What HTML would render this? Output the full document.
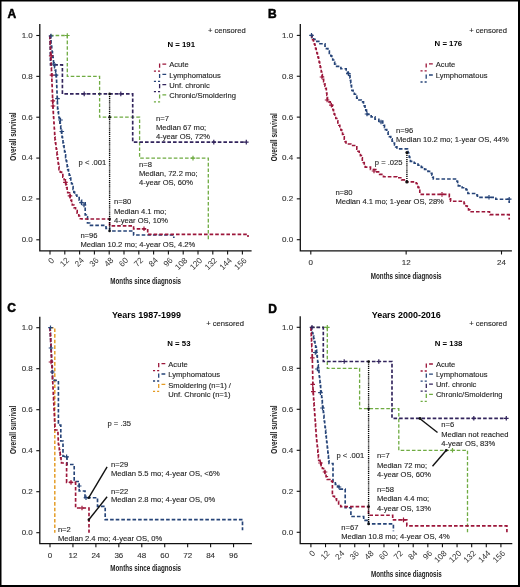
<!DOCTYPE html>
<html><head><meta charset="utf-8"><style>
html,body{margin:0;padding:0;background:#fff;}
svg{display:block;font-family:"Liberation Sans", sans-serif;filter:blur(0.3px);}

</style></head><body>
<svg width="520" height="587" viewBox="0 0 520 587">
<rect x="0" y="0" width="520" height="587" fill="#fff"/>
<text x="7.40" y="17.52" font-size="12" font-weight="bold" text-anchor="start" fill="#000" stroke="#000" stroke-width="0.5" >A</text>
<path d="M39.8,24V250.8H251.6" stroke="#111" stroke-width="1.3" fill="none"/>
<path d="M36.30,239.80H39.8" stroke="#111" stroke-width="1.1"/>
<text x="32.80" y="242.18" font-size="8" font-weight="normal" text-anchor="end" fill="#333" stroke="#333" stroke-width="0.12" >0.0</text>
<path d="M36.30,198.94H39.8" stroke="#111" stroke-width="1.1"/>
<text x="32.80" y="201.32" font-size="8" font-weight="normal" text-anchor="end" fill="#333" stroke="#333" stroke-width="0.12" >0.2</text>
<path d="M36.30,158.08H39.8" stroke="#111" stroke-width="1.1"/>
<text x="32.80" y="160.46" font-size="8" font-weight="normal" text-anchor="end" fill="#333" stroke="#333" stroke-width="0.12" >0.4</text>
<path d="M36.30,117.22H39.8" stroke="#111" stroke-width="1.1"/>
<text x="32.80" y="119.60" font-size="8" font-weight="normal" text-anchor="end" fill="#333" stroke="#333" stroke-width="0.12" >0.6</text>
<path d="M36.30,76.36H39.8" stroke="#111" stroke-width="1.1"/>
<text x="32.80" y="78.74" font-size="8" font-weight="normal" text-anchor="end" fill="#333" stroke="#333" stroke-width="0.12" >0.8</text>
<path d="M36.30,35.50H39.8" stroke="#111" stroke-width="1.1"/>
<text x="32.80" y="37.88" font-size="8" font-weight="normal" text-anchor="end" fill="#333" stroke="#333" stroke-width="0.12" >1.0</text>
<path d="M50.00,250.8V254.40" stroke="#111" stroke-width="1.1"/>
<text transform="translate(54.80,260.90) rotate(-45)" font-size="8.2" text-anchor="end" fill="#333">0</text>
<path d="M64.80,250.8V254.40" stroke="#111" stroke-width="1.1"/>
<text transform="translate(69.60,260.90) rotate(-45)" font-size="8.2" text-anchor="end" fill="#333">12</text>
<path d="M79.60,250.8V254.40" stroke="#111" stroke-width="1.1"/>
<text transform="translate(84.40,260.90) rotate(-45)" font-size="8.2" text-anchor="end" fill="#333">24</text>
<path d="M94.40,250.8V254.40" stroke="#111" stroke-width="1.1"/>
<text transform="translate(99.20,260.90) rotate(-45)" font-size="8.2" text-anchor="end" fill="#333">36</text>
<path d="M109.20,250.8V254.40" stroke="#111" stroke-width="1.1"/>
<text transform="translate(114.00,260.90) rotate(-45)" font-size="8.2" text-anchor="end" fill="#333">48</text>
<path d="M124.00,250.8V254.40" stroke="#111" stroke-width="1.1"/>
<text transform="translate(128.80,260.90) rotate(-45)" font-size="8.2" text-anchor="end" fill="#333">60</text>
<path d="M138.80,250.8V254.40" stroke="#111" stroke-width="1.1"/>
<text transform="translate(143.60,260.90) rotate(-45)" font-size="8.2" text-anchor="end" fill="#333">72</text>
<path d="M153.60,250.8V254.40" stroke="#111" stroke-width="1.1"/>
<text transform="translate(158.40,260.90) rotate(-45)" font-size="8.2" text-anchor="end" fill="#333">84</text>
<path d="M168.40,250.8V254.40" stroke="#111" stroke-width="1.1"/>
<text transform="translate(173.20,260.90) rotate(-45)" font-size="8.2" text-anchor="end" fill="#333">96</text>
<path d="M183.20,250.8V254.40" stroke="#111" stroke-width="1.1"/>
<text transform="translate(188.00,260.90) rotate(-45)" font-size="8.2" text-anchor="end" fill="#333">108</text>
<path d="M198.00,250.8V254.40" stroke="#111" stroke-width="1.1"/>
<text transform="translate(202.80,260.90) rotate(-45)" font-size="8.2" text-anchor="end" fill="#333">120</text>
<path d="M212.80,250.8V254.40" stroke="#111" stroke-width="1.1"/>
<text transform="translate(217.60,260.90) rotate(-45)" font-size="8.2" text-anchor="end" fill="#333">132</text>
<path d="M227.60,250.8V254.40" stroke="#111" stroke-width="1.1"/>
<text transform="translate(232.40,260.90) rotate(-45)" font-size="8.2" text-anchor="end" fill="#333">144</text>
<path d="M242.39,250.8V254.40" stroke="#111" stroke-width="1.1"/>
<text transform="translate(247.19,260.90) rotate(-45)" font-size="8.2" text-anchor="end" fill="#333">156</text>
<text transform="translate(16.30,136.50) rotate(-90) scale(0.655,1)" font-size="9.9" font-weight="bold" text-anchor="middle" fill="#222">Overall survival</text>
<text transform="translate(145.70,284.40) scale(0.632,1)" font-size="9.9" font-weight="bold" text-anchor="middle" fill="#222">Months since diagnosis</text>
<text x="208.00" y="33.49" font-size="7.6" font-weight="normal" text-anchor="start" fill="#1e1e1e" stroke="#1e1e1e" stroke-width="0.12" >+ censored</text>
<text x="167.50" y="46.56" font-size="7.8" font-weight="bold" text-anchor="start" fill="#000" stroke="#000" stroke-width="0.0" >N = 191</text>
<path d="M162.40,64.10H166.20M159.60,63.60V67.80M160.10,71.10H158.00M156.00,71.10H153.90" fill="none" stroke="#9c163a" stroke-width="1.3"/>
<text x="169.20" y="67.24" font-size="7.6" font-weight="normal" text-anchor="start" fill="#1e1e1e" stroke="#1e1e1e" stroke-width="0.12" >Acute</text>
<path d="M162.40,74.40H166.20M159.60,73.90V78.10M160.10,81.40H158.00M156.00,81.40H153.90" fill="none" stroke="#264478" stroke-width="1.3"/>
<text x="169.20" y="77.54" font-size="7.6" font-weight="normal" text-anchor="start" fill="#1e1e1e" stroke="#1e1e1e" stroke-width="0.12" >Lymphomatous</text>
<path d="M162.40,84.60H166.20M159.60,84.10V88.30M160.10,91.60H158.00M156.00,91.60H153.90" fill="none" stroke="#32245c" stroke-width="1.3"/>
<text x="169.20" y="87.74" font-size="7.6" font-weight="normal" text-anchor="start" fill="#1e1e1e" stroke="#1e1e1e" stroke-width="0.12" >Unf. chronic</text>
<path d="M162.40,94.90H166.20M159.60,94.40V98.60M160.10,101.90H158.00M156.00,101.90H153.90" fill="none" stroke="#6fab42" stroke-width="1.3"/>
<text x="169.20" y="98.04" font-size="7.6" font-weight="normal" text-anchor="start" fill="#1e1e1e" stroke="#1e1e1e" stroke-width="0.12" >Chronic/Smoldering</text>
<path d="M50.00,35.50H67.30V35.50H67.30V76.40H99.60V76.40H99.60V117.20H139.60V117.20H139.60V158.10H208.30V158.10H208.30V239.80" fill="none" stroke="#6fab42" stroke-width="1.3" stroke-dasharray="3.6 2"/>
<path d="M50.00,35.50H50.05V38.43H50.10V41.36H50.15V44.29H50.20V47.22H50.25V50.15H50.30V53.08H50.35V56.01H50.40V58.94H50.45V61.87H50.50V64.80H62.40V64.80H62.40V93.90H132.70V93.90H132.70V142.10H246.30V142.10" fill="none" stroke="#32245c" stroke-width="1.65" stroke-dasharray="3.6 2"/>
<path d="M50.00,35.50H50.35V38.22H50.70V40.94H51.05V43.66H51.40V46.38H51.75V49.10H52.10V51.82H52.45V54.54H52.80V57.26H53.15V59.98H53.50V62.70H54.06V65.16H54.62V67.62H55.18V70.08H55.74V72.54H56.30V75.00H56.41V77.83H56.52V80.67H56.62V83.50H56.73V86.33H56.84V89.17H56.95V92.00H57.06V94.83H57.17V97.67H57.27V100.50H57.38V103.33H57.49V106.17H57.60V109.00H58.05V111.82H58.49V114.64H58.94V117.45H59.38V120.27H59.83V123.09H60.27V125.91H60.72V128.73H61.16V131.55H61.61V134.36H62.05V137.18H62.50V140.00H63.02V142.96H63.54V145.92H64.06V148.88H64.58V151.84H65.10V154.80H65.62V157.76H66.14V160.72H66.66V163.68H67.18V166.64H67.70V169.60H68.47V172.42H69.23V175.24H70.00V178.07H70.77V180.89H71.53V183.71H72.30V186.53H73.07V189.36H73.83V192.18H74.60V195.00H76.90V197.57H79.20V200.13H81.50V202.70H85.20V203.00H85.20V215.00H86.35V216.85H87.50V218.70H87.50V223.00H89.60V225.40H104.80V225.40H106.00V228.30H109.60V228.30H109.60V231.00H133.60V231.00H133.60V235.00H173.80V235.00H173.80V238.00" fill="none" stroke="#264478" stroke-width="1.65" stroke-dasharray="3.6 2"/>
<path d="M50.00,35.50H50.12V38.44H50.24V41.38H50.36V44.32H50.48V47.26H50.60V50.20H50.72V53.14H50.84V56.08H50.96V59.02H51.08V61.96H51.20V64.90H51.32V67.84H51.44V70.78H51.56V73.72H51.68V76.66H51.80V79.60H51.92V82.54H52.04V85.48H52.16V88.42H52.28V91.36H52.40V94.30H52.52V97.24H52.64V100.18H52.76V103.12H52.88V106.06H53.00V109.00H53.18V111.82H53.36V114.64H53.55V117.45H53.73V120.27H53.91V123.09H54.09V125.91H54.27V128.73H54.45V131.55H54.64V134.36H54.82V137.18H55.00V140.00H55.40V142.96H55.80V145.92H56.20V148.88H56.60V151.84H57.00V154.80H57.40V157.76H57.80V160.72H58.20V163.68H58.60V166.64H59.00V169.60H60.28V172.14H61.56V174.68H62.84V177.22H64.12V179.76H65.40V182.30H65.98V184.90H66.55V187.50H67.12V190.10H67.70V192.70H68.80V192.70H69.50V195.16H70.20V197.62H70.90V200.08H71.60V202.54H72.30V205.00H73.92V207.74H75.54V210.48H77.16V213.22H78.78V215.96H80.40V218.70H82.00V219.00H109.60V219.00H109.60V225.90H133.60V225.90H133.60V228.80H147.70V228.80H147.70V234.30H248.00V234.30H248.00V237.00" fill="none" stroke="#9c163a" stroke-width="1.65" stroke-dasharray="3.6 2"/>
<path d="M81.90,93.90H86.50M84.20,91.60V96.20" stroke="#32245c" stroke-width="1.2" fill="none"/>
<path d="M118.50,93.90H123.10M120.80,91.60V96.20" stroke="#32245c" stroke-width="1.2" fill="none"/>
<path d="M211.50,142.10H216.10M213.80,139.80V144.40" stroke="#32245c" stroke-width="1.2" fill="none"/>
<path d="M244.00,142.10H248.60M246.30,139.80V144.40" stroke="#32245c" stroke-width="1.2" fill="none"/>
<path d="M190.70,158.10H195.30M193.00,155.80V160.40" stroke="#6fab42" stroke-width="1.2" fill="none"/>
<path d="M65.00,35.50H69.60M67.30,33.20V37.80" stroke="#6fab42" stroke-width="1.2" fill="none"/>
<path d="M48.70,36.00H53.30M51.00,33.70V38.30" stroke="#264478" stroke-width="1.2" fill="none"/>
<path d="M51.50,64.00H56.10M53.80,61.70V66.30" stroke="#264478" stroke-width="1.2" fill="none"/>
<path d="M53.70,75.20H58.30M56.00,72.90V77.50" stroke="#264478" stroke-width="1.2" fill="none"/>
<path d="M55.20,98.70H59.80M57.50,96.40V101.00" stroke="#264478" stroke-width="1.2" fill="none"/>
<path d="M58.20,120.00H62.80M60.50,117.70V122.30" stroke="#264478" stroke-width="1.2" fill="none"/>
<path d="M59.50,131.50H64.10M61.80,129.20V133.80" stroke="#264478" stroke-width="1.2" fill="none"/>
<path d="M79.20,202.70H83.80M81.50,200.40V205.00" stroke="#264478" stroke-width="1.2" fill="none"/>
<path d="M81.70,205.00H86.30M84.00,202.70V207.30" stroke="#264478" stroke-width="1.2" fill="none"/>
<path d="M48.90,55.80H53.50M51.20,53.50V58.10" stroke="#9c163a" stroke-width="1.2" fill="none"/>
<path d="M49.70,75.20H54.30M52.00,72.90V77.50" stroke="#9c163a" stroke-width="1.2" fill="none"/>
<path d="M50.50,100.80H55.10M52.80,98.50V103.10" stroke="#9c163a" stroke-width="1.2" fill="none"/>
<path d="M50.70,106.00H55.30M53.00,103.70V108.30" stroke="#9c163a" stroke-width="1.2" fill="none"/>
<path d="M63.10,182.30H67.70M65.40,180.00V184.60" stroke="#9c163a" stroke-width="1.2" fill="none"/>
<path d="M67.70,195.80H72.30M70.00,193.50V198.10" stroke="#9c163a" stroke-width="1.2" fill="none"/>
<path d="M141.70,228.80H146.30M144.00,226.50V231.10" stroke="#9c163a" stroke-width="1.2" fill="none"/>
<path d="M109.60,93.90V231.00" stroke="#000" stroke-width="1.4" stroke-dasharray="1.2 0.9" fill="none"/>
<circle cx="109.60" cy="93.90" r="1.3" fill="#111"/>
<circle cx="109.60" cy="117.20" r="1.3" fill="#111"/>
<circle cx="109.60" cy="219.00" r="1.3" fill="#111"/>
<circle cx="109.60" cy="231.00" r="1.3" fill="#111"/>
<text x="78.60" y="165.44" font-size="7.6" font-weight="normal" text-anchor="start" fill="#1e1e1e" stroke="#1e1e1e" stroke-width="0.12" >p &lt; .001</text>
<text x="156.00" y="120.74" font-size="7.6" font-weight="normal" text-anchor="start" fill="#1e1e1e" stroke="#1e1e1e" stroke-width="0.12" >n=7</text>
<text x="156.00" y="130.04" font-size="7.6" font-weight="normal" text-anchor="start" fill="#1e1e1e" stroke="#1e1e1e" stroke-width="0.12" >Median 67 mo;</text>
<text x="156.00" y="139.24" font-size="7.6" font-weight="normal" text-anchor="start" fill="#1e1e1e" stroke="#1e1e1e" stroke-width="0.12" >4-year OS, 72%</text>
<text x="139.00" y="166.54" font-size="7.6" font-weight="normal" text-anchor="start" fill="#1e1e1e" stroke="#1e1e1e" stroke-width="0.12" >n=8</text>
<text x="139.00" y="176.24" font-size="7.6" font-weight="normal" text-anchor="start" fill="#1e1e1e" stroke="#1e1e1e" stroke-width="0.12" >Median, 72.2 mo;</text>
<text x="139.00" y="185.24" font-size="7.6" font-weight="normal" text-anchor="start" fill="#1e1e1e" stroke="#1e1e1e" stroke-width="0.12" >4-year OS, 60%</text>
<text x="114.00" y="204.24" font-size="7.6" font-weight="normal" text-anchor="start" fill="#1e1e1e" stroke="#1e1e1e" stroke-width="0.12" >n=80</text>
<text x="114.00" y="213.54" font-size="7.6" font-weight="normal" text-anchor="start" fill="#1e1e1e" stroke="#1e1e1e" stroke-width="0.12" >Median 4.1 mo;</text>
<text x="114.00" y="223.34" font-size="7.6" font-weight="normal" text-anchor="start" fill="#1e1e1e" stroke="#1e1e1e" stroke-width="0.12" >4-year OS, 10%</text>
<text x="80.40" y="238.34" font-size="7.6" font-weight="normal" text-anchor="start" fill="#1e1e1e" stroke="#1e1e1e" stroke-width="0.12" >n=96</text>
<text x="80.50" y="246.94" font-size="7.6" font-weight="normal" text-anchor="start" fill="#1e1e1e" stroke="#1e1e1e" stroke-width="0.12" >Median 10.2 mo; 4-year OS, 4.2%</text>
<text x="267.90" y="17.52" font-size="12" font-weight="bold" text-anchor="start" fill="#000" stroke="#000" stroke-width="0.5" >B</text>
<path d="M300.3,24V250.9H511.9" stroke="#111" stroke-width="1.3" fill="none"/>
<path d="M296.80,239.70H300.3" stroke="#111" stroke-width="1.1"/>
<text x="293.20" y="242.08" font-size="8" font-weight="normal" text-anchor="end" fill="#333" stroke="#333" stroke-width="0.12" >0.0</text>
<path d="M296.80,198.84H300.3" stroke="#111" stroke-width="1.1"/>
<text x="293.20" y="201.22" font-size="8" font-weight="normal" text-anchor="end" fill="#333" stroke="#333" stroke-width="0.12" >0.2</text>
<path d="M296.80,157.98H300.3" stroke="#111" stroke-width="1.1"/>
<text x="293.20" y="160.36" font-size="8" font-weight="normal" text-anchor="end" fill="#333" stroke="#333" stroke-width="0.12" >0.4</text>
<path d="M296.80,117.12H300.3" stroke="#111" stroke-width="1.1"/>
<text x="293.20" y="119.50" font-size="8" font-weight="normal" text-anchor="end" fill="#333" stroke="#333" stroke-width="0.12" >0.6</text>
<path d="M296.80,76.26H300.3" stroke="#111" stroke-width="1.1"/>
<text x="293.20" y="78.64" font-size="8" font-weight="normal" text-anchor="end" fill="#333" stroke="#333" stroke-width="0.12" >0.8</text>
<path d="M296.80,35.40H300.3" stroke="#111" stroke-width="1.1"/>
<text x="293.20" y="37.78" font-size="8" font-weight="normal" text-anchor="end" fill="#333" stroke="#333" stroke-width="0.12" >1.0</text>
<path d="M310.80,250.9V254.50" stroke="#111" stroke-width="1.1"/>
<text x="310.80" y="265.08" font-size="8" font-weight="normal" text-anchor="middle" fill="#333" stroke="#333" stroke-width="0.12" >0</text>
<path d="M406.15,250.9V254.50" stroke="#111" stroke-width="1.1"/>
<text x="406.15" y="265.08" font-size="8" font-weight="normal" text-anchor="middle" fill="#333" stroke="#333" stroke-width="0.12" >12</text>
<path d="M501.50,250.9V254.50" stroke="#111" stroke-width="1.1"/>
<text x="501.50" y="265.08" font-size="8" font-weight="normal" text-anchor="middle" fill="#333" stroke="#333" stroke-width="0.12" >24</text>
<text transform="translate(276.50,137.20) rotate(-90) scale(0.655,1)" font-size="9.9" font-weight="bold" text-anchor="middle" fill="#222">Overall survival</text>
<text transform="translate(406.20,278.80) scale(0.632,1)" font-size="9.9" font-weight="bold" text-anchor="middle" fill="#222">Months since diagnosis</text>
<text x="469.20" y="33.14" font-size="7.6" font-weight="normal" text-anchor="start" fill="#1e1e1e" stroke="#1e1e1e" stroke-width="0.12" >+ censored</text>
<text x="434.60" y="46.31" font-size="7.8" font-weight="bold" text-anchor="start" fill="#000" stroke="#000" stroke-width="0.0" >N = 176</text>
<path d="M429.00,63.90H432.80M426.20,63.40V67.60M426.70,70.90H424.60M422.60,70.90H420.50" fill="none" stroke="#9c163a" stroke-width="1.3"/>
<text x="435.80" y="67.04" font-size="7.6" font-weight="normal" text-anchor="start" fill="#1e1e1e" stroke="#1e1e1e" stroke-width="0.12" >Acute</text>
<path d="M429.00,75.00H432.80M426.20,74.50V78.70M426.70,82.00H424.60M422.60,82.00H420.50" fill="none" stroke="#264478" stroke-width="1.3"/>
<text x="435.80" y="78.14" font-size="7.6" font-weight="normal" text-anchor="start" fill="#1e1e1e" stroke="#1e1e1e" stroke-width="0.12" >Lymphomatous</text>
<path d="M310.80,35.30H312.20V37.30H313.60V39.30H315.00V41.30H320.00V43.75H325.00V46.20H326.45V48.60H327.90V51.00H329.35V53.40H330.80V55.80H331.76V57.90H332.72V60.00H333.68V62.10H334.64V64.20H335.60V66.30H340.90V68.75H346.20V71.20H347.47V73.43H348.73V75.67H350.00V77.90H350.38V80.40H350.76V82.90H351.14V85.40H351.52V87.90H351.90V90.40H353.10V92.33H354.30V94.25H355.50V96.17H356.70V98.10H358.97V100.00H361.23V101.90H363.50V103.80H364.26V105.92H365.02V108.04H365.78V110.16H366.54V112.28H367.30V114.40H371.15V116.80H375.00V119.20H378.85V121.10H382.70V123.00H383.60V125.20H384.50V127.40H385.40V129.60H386.74V131.92H388.08V134.24H389.42V136.56H390.76V138.88H392.10V141.20H393.30V143.10H394.50V145.00H395.70V146.90H396.90V148.80H407.50V150.80H408.08V152.90H408.66V155.00H409.24V157.10H409.82V159.20H410.40V161.30H414.20V163.25H418.00V165.20H421.30V167.30H424.60V169.40H427.95V171.35H431.30V173.30H431.97V175.20H432.63V177.10H433.30V179.00H456.30V179.00H456.97V181.27H457.63V183.53H458.30V185.80H462.15V187.70H466.00V189.60H466.95V191.55H467.90V193.50H476.50V193.50H477.00V195.40H477.50V197.30H493.80V197.30H495.80V199.20H509.20V199.20H509.20V203.00" fill="none" stroke="#264478" stroke-width="1.65" stroke-dasharray="3.6 2"/>
<path d="M310.80,35.30H311.70V37.52H312.60V39.75H313.50V41.98H314.40V44.20H315.00V46.40H315.60V48.60H316.20V50.80H316.80V53.00H317.40V55.20H318.00V57.40H318.60V59.60H319.13V62.09H319.66V64.57H320.19V67.06H320.71V69.54H321.24V72.03H321.77V74.51H322.30V77.00H322.97V79.28H323.63V81.57H324.30V83.85H324.97V86.13H325.63V88.42H326.30V90.70H326.60V93.03H326.90V95.35H327.20V97.67H327.50V100.00H328.87V101.83H330.23V103.67H331.60V105.50H332.24V107.64H332.88V109.78H333.52V111.92H334.16V114.06H334.80V116.20H335.80V118.47H336.80V120.73H337.80V123.00H338.80V125.27H339.80V127.53H340.80V129.80H341.67V132.17H342.53V134.53H343.40V136.90H344.27V139.27H345.13V141.63H346.00V144.00H350.80V145.45H355.60V146.90H356.80V149.07H358.00V151.25H359.20V153.43H360.40V155.60H361.36V157.90H362.32V160.20H363.28V162.50H364.24V164.80H365.20V167.10H370.50V169.50H375.80V171.90H379.65V174.30H383.50V176.70H396.90V177.70H401.70V179.80H406.50V181.90H416.20V183.50H417.10V185.43H418.00V187.35H418.90V189.27H419.80V191.20H419.80V194.40H448.70V194.40H449.33V196.67H449.97V198.93H450.60V201.20H462.10V201.20H464.05V203.60H466.00V206.00H467.27V207.90H468.53V209.80H469.80V211.70H489.00V211.70H489.50V213.15H490.00V214.60H509.20V214.60H509.20V219.40" fill="none" stroke="#9c163a" stroke-width="1.65" stroke-dasharray="3.6 2"/>
<path d="M309.20,35.30H313.80M311.50,33.00V37.60" stroke="#264478" stroke-width="1.2" fill="none"/>
<path d="M346.10,73.60H350.70M348.40,71.30V75.90" stroke="#264478" stroke-width="1.2" fill="none"/>
<path d="M364.70,114.00H369.30M367.00,111.70V116.30" stroke="#264478" stroke-width="1.2" fill="none"/>
<path d="M378.70,122.00H383.30M381.00,119.70V124.30" stroke="#264478" stroke-width="1.2" fill="none"/>
<path d="M486.70,197.30H491.30M489.00,195.00V199.60" stroke="#264478" stroke-width="1.2" fill="none"/>
<path d="M506.90,199.20H511.50M509.20,196.90V201.50" stroke="#264478" stroke-width="1.2" fill="none"/>
<path d="M319.70,77.00H324.30M322.00,74.70V79.30" stroke="#9c163a" stroke-width="1.2" fill="none"/>
<path d="M324.80,100.00H329.40M327.10,97.70V102.30" stroke="#9c163a" stroke-width="1.2" fill="none"/>
<path d="M329.10,105.10H333.70M331.40,102.80V107.40" stroke="#9c163a" stroke-width="1.2" fill="none"/>
<path d="M371.70,171.00H376.30M374.00,168.70V173.30" stroke="#9c163a" stroke-width="1.2" fill="none"/>
<path d="M439.70,194.40H444.30M442.00,192.10V196.70" stroke="#9c163a" stroke-width="1.2" fill="none"/>
<path d="M406.90,152.70V181.90" stroke="#000" stroke-width="1.4" stroke-dasharray="1.2 0.9" fill="none"/>
<circle cx="406.90" cy="152.40" r="1.5" fill="#111"/>
<circle cx="406.90" cy="181.90" r="1.6" fill="#111"/>
<text x="374.80" y="165.44" font-size="7.6" font-weight="normal" text-anchor="start" fill="#1e1e1e" stroke="#1e1e1e" stroke-width="0.12" >p = .025</text>
<text x="396.00" y="133.34" font-size="7.6" font-weight="normal" text-anchor="start" fill="#1e1e1e" stroke="#1e1e1e" stroke-width="0.12" >n=96</text>
<text x="396.00" y="142.34" font-size="7.6" font-weight="normal" text-anchor="start" fill="#1e1e1e" stroke="#1e1e1e" stroke-width="0.12" >Median 10.2 mo; 1-year OS, 44%</text>
<text x="335.40" y="194.84" font-size="7.6" font-weight="normal" text-anchor="start" fill="#1e1e1e" stroke="#1e1e1e" stroke-width="0.12" >n=80</text>
<text x="335.40" y="204.44" font-size="7.6" font-weight="normal" text-anchor="start" fill="#1e1e1e" stroke="#1e1e1e" stroke-width="0.12" >Median 4.1 mo; 1-year OS, 28%</text>
<text x="7.20" y="312.32" font-size="12" font-weight="bold" text-anchor="start" fill="#000" stroke="#000" stroke-width="0.5" >C</text>
<path d="M39.8,316.7V543.6H251.9" stroke="#111" stroke-width="1.3" fill="none"/>
<path d="M36.30,532.70H39.8" stroke="#111" stroke-width="1.1"/>
<text x="32.80" y="535.08" font-size="8" font-weight="normal" text-anchor="end" fill="#333" stroke="#333" stroke-width="0.12" >0.0</text>
<path d="M36.30,491.70H39.8" stroke="#111" stroke-width="1.1"/>
<text x="32.80" y="494.08" font-size="8" font-weight="normal" text-anchor="end" fill="#333" stroke="#333" stroke-width="0.12" >0.2</text>
<path d="M36.30,450.70H39.8" stroke="#111" stroke-width="1.1"/>
<text x="32.80" y="453.08" font-size="8" font-weight="normal" text-anchor="end" fill="#333" stroke="#333" stroke-width="0.12" >0.4</text>
<path d="M36.30,409.70H39.8" stroke="#111" stroke-width="1.1"/>
<text x="32.80" y="412.08" font-size="8" font-weight="normal" text-anchor="end" fill="#333" stroke="#333" stroke-width="0.12" >0.6</text>
<path d="M36.30,368.70H39.8" stroke="#111" stroke-width="1.1"/>
<text x="32.80" y="371.08" font-size="8" font-weight="normal" text-anchor="end" fill="#333" stroke="#333" stroke-width="0.12" >0.8</text>
<path d="M36.30,327.70H39.8" stroke="#111" stroke-width="1.1"/>
<text x="32.80" y="330.08" font-size="8" font-weight="normal" text-anchor="end" fill="#333" stroke="#333" stroke-width="0.12" >1.0</text>
<path d="M50.00,543.6V547.20" stroke="#111" stroke-width="1.1"/>
<text x="50.00" y="557.78" font-size="8" font-weight="normal" text-anchor="middle" fill="#333" stroke="#333" stroke-width="0.12" >0</text>
<path d="M72.94,543.6V547.20" stroke="#111" stroke-width="1.1"/>
<text x="72.94" y="557.78" font-size="8" font-weight="normal" text-anchor="middle" fill="#333" stroke="#333" stroke-width="0.12" >12</text>
<path d="M95.89,543.6V547.20" stroke="#111" stroke-width="1.1"/>
<text x="95.89" y="557.78" font-size="8" font-weight="normal" text-anchor="middle" fill="#333" stroke="#333" stroke-width="0.12" >24</text>
<path d="M118.83,543.6V547.20" stroke="#111" stroke-width="1.1"/>
<text x="118.83" y="557.78" font-size="8" font-weight="normal" text-anchor="middle" fill="#333" stroke="#333" stroke-width="0.12" >36</text>
<path d="M141.78,543.6V547.20" stroke="#111" stroke-width="1.1"/>
<text x="141.78" y="557.78" font-size="8" font-weight="normal" text-anchor="middle" fill="#333" stroke="#333" stroke-width="0.12" >48</text>
<path d="M164.72,543.6V547.20" stroke="#111" stroke-width="1.1"/>
<text x="164.72" y="557.78" font-size="8" font-weight="normal" text-anchor="middle" fill="#333" stroke="#333" stroke-width="0.12" >60</text>
<path d="M187.66,543.6V547.20" stroke="#111" stroke-width="1.1"/>
<text x="187.66" y="557.78" font-size="8" font-weight="normal" text-anchor="middle" fill="#333" stroke="#333" stroke-width="0.12" >72</text>
<path d="M210.61,543.6V547.20" stroke="#111" stroke-width="1.1"/>
<text x="210.61" y="557.78" font-size="8" font-weight="normal" text-anchor="middle" fill="#333" stroke="#333" stroke-width="0.12" >84</text>
<path d="M233.55,543.6V547.20" stroke="#111" stroke-width="1.1"/>
<text x="233.55" y="557.78" font-size="8" font-weight="normal" text-anchor="middle" fill="#333" stroke="#333" stroke-width="0.12" >96</text>
<text transform="translate(16.30,429.90) rotate(-90) scale(0.655,1)" font-size="9.9" font-weight="bold" text-anchor="middle" fill="#222">Overall survival</text>
<text transform="translate(145.70,571.30) scale(0.632,1)" font-size="9.9" font-weight="bold" text-anchor="middle" fill="#222">Months since diagnosis</text>
<text x="111.90" y="318.32" font-size="8.95" font-weight="bold" text-anchor="start" fill="#000" stroke="#000" stroke-width="0.0" >Years 1987-1999</text>
<text x="206.20" y="325.74" font-size="7.6" font-weight="normal" text-anchor="start" fill="#1e1e1e" stroke="#1e1e1e" stroke-width="0.12" >+ censored</text>
<text x="167.30" y="346.21" font-size="7.8" font-weight="bold" text-anchor="start" fill="#000" stroke="#000" stroke-width="0.0" >N = 53</text>
<path d="M161.50,363.60H165.30M158.70,363.10V367.30M159.20,370.60H157.10M155.10,370.60H153.00" fill="none" stroke="#9c163a" stroke-width="1.3"/>
<text x="168.30" y="366.74" font-size="7.6" font-weight="normal" text-anchor="start" fill="#1e1e1e" stroke="#1e1e1e" stroke-width="0.12" >Acute</text>
<path d="M161.50,374.00H165.30M158.70,373.50V377.70M159.20,381.00H157.10M155.10,381.00H153.00" fill="none" stroke="#264478" stroke-width="1.3"/>
<text x="168.30" y="377.14" font-size="7.6" font-weight="normal" text-anchor="start" fill="#1e1e1e" stroke="#1e1e1e" stroke-width="0.12" >Lymphomatous</text>
<path d="M161.50,384.40H165.30M158.70,383.90V388.10M159.20,391.40H157.10M155.10,391.40H153.00" fill="none" stroke="#e49a22" stroke-width="1.3"/>
<text x="168.30" y="387.54" font-size="7.6" font-weight="normal" text-anchor="start" fill="#1e1e1e" stroke="#1e1e1e" stroke-width="0.12" >Smoldering (n=1) /</text>
<text x="168.30" y="396.64" font-size="7.6" font-weight="normal" text-anchor="start" fill="#1e1e1e" stroke="#1e1e1e" stroke-width="0.12" >Unf. Chronic (n=1)</text>
<path d="M50.00,327.70H54.80V327.70H54.80V532.70" fill="none" stroke="#e49a22" stroke-width="1.45" stroke-dasharray="3.6 2"/>
<path d="M50.00,327.70H50.14V330.45H50.27V333.21H50.41V335.96H50.55V338.72H50.68V341.47H50.82V344.23H50.95V346.98H51.09V349.74H51.23V352.49H51.36V355.25H51.50V358.00H51.70V360.80H51.90V363.60H52.10V366.40H52.30V369.20H52.50V372.00H52.50V380.40H58.40V380.40H58.40V425.00H60.80V425.00H60.80V441.00H63.00V441.00H63.00V456.20H67.00V456.20H67.00V464.50H74.20V464.50H74.20V481.50H79.20V481.50H79.20V491.00H85.00V491.00H85.00V497.70H97.50V497.70H97.50V506.30H105.20V506.30H105.20V519.60H242.50V519.60H242.50V530.30" fill="none" stroke="#264478" stroke-width="1.65" stroke-dasharray="3.6 2"/>
<path d="M50.00,327.70H50.14V330.45H50.27V333.21H50.41V335.96H50.55V338.72H50.68V341.47H50.82V344.23H50.95V346.98H51.09V349.74H51.23V352.49H51.36V355.25H51.50V358.00H51.65V361.00H51.80V364.00H51.95V367.00H52.10V370.00H52.25V373.00H52.39V376.00H52.54V379.00H52.68V382.00H52.83V385.00H52.97V388.00H53.12V391.00H53.26V394.00H53.41V397.00H53.55V400.00H53.70V403.00H53.84V406.00H53.98V409.00H54.13V412.00H54.27V415.00H54.42V418.00H54.56V421.00H54.71V424.00H54.85V427.00H55.00V430.00H57.90V433.00H58.02V435.88H58.15V438.75H58.27V441.62H58.40V444.50H58.84V447.14H59.29V449.79H59.73V452.43H60.17V455.07H60.61V457.71H61.06V460.36H61.50V463.00H66.60V463.00H66.60V482.40H75.60V482.40H75.60V508.00H89.00V508.00H89.00V532.70" fill="none" stroke="#9c163a" stroke-width="1.65" stroke-dasharray="3.6 2"/>
<path d="M48.20,327.70H52.80M50.50,325.40V330.00" stroke="#264478" stroke-width="1.2" fill="none"/>
<path d="M48.70,348.00H53.30M51.00,345.70V350.30" stroke="#264478" stroke-width="1.2" fill="none"/>
<path d="M50.00,372.00H54.60M52.30,369.70V374.30" stroke="#264478" stroke-width="1.2" fill="none"/>
<path d="M64.30,456.80H68.90M66.60,454.50V459.10" stroke="#264478" stroke-width="1.2" fill="none"/>
<path d="M83.70,497.70H88.30M86.00,495.40V500.00" stroke="#264478" stroke-width="1.2" fill="none"/>
<path d="M76.90,486.00H81.50M79.20,483.70V488.30" stroke="#264478" stroke-width="1.2" fill="none"/>
<path d="M48.70,362.00H53.30M51.00,359.70V364.30" stroke="#9c163a" stroke-width="1.2" fill="none"/>
<path d="M79.70,508.00H84.30M82.00,505.70V510.30" stroke="#9c163a" stroke-width="1.2" fill="none"/>
<path d="M68.70,482.40H73.30M71.00,480.10V484.70" stroke="#9c163a" stroke-width="1.2" fill="none"/>
<path d="M88.80,497.70L107.10,466.90" stroke="#111" stroke-width="1.4" fill="none"/>
<path d="M88.80,519.80L107.10,496.70" stroke="#111" stroke-width="1.4" fill="none"/>
<circle cx="88.80" cy="497.70" r="1.3" fill="#111"/>
<circle cx="88.80" cy="519.80" r="1.3" fill="#111"/>
<text x="107.50" y="425.64" font-size="7.6" font-weight="normal" text-anchor="start" fill="#1e1e1e" stroke="#1e1e1e" stroke-width="0.12" >p = .35</text>
<text x="111.00" y="466.74" font-size="7.6" font-weight="normal" text-anchor="start" fill="#1e1e1e" stroke="#1e1e1e" stroke-width="0.12" >n=29</text>
<text x="111.00" y="476.44" font-size="7.6" font-weight="normal" text-anchor="start" fill="#1e1e1e" stroke="#1e1e1e" stroke-width="0.12" >Median 5.5 mo; 4-year OS, &lt;6%</text>
<text x="111.00" y="493.74" font-size="7.6" font-weight="normal" text-anchor="start" fill="#1e1e1e" stroke="#1e1e1e" stroke-width="0.12" >n=22</text>
<text x="111.00" y="502.34" font-size="7.6" font-weight="normal" text-anchor="start" fill="#1e1e1e" stroke="#1e1e1e" stroke-width="0.12" >Median 2.8 mo; 4-year OS, 0%</text>
<text x="57.90" y="532.14" font-size="7.6" font-weight="normal" text-anchor="start" fill="#1e1e1e" stroke="#1e1e1e" stroke-width="0.12" >n=2</text>
<text x="58.00" y="541.24" font-size="7.6" font-weight="normal" text-anchor="start" fill="#1e1e1e" stroke="#1e1e1e" stroke-width="0.12" >Median 2.4 mo; 4-year OS, 0%</text>
<text x="268.20" y="312.52" font-size="12" font-weight="bold" text-anchor="start" fill="#000" stroke="#000" stroke-width="0.5" >D</text>
<path d="M300.2,316.3V543.6H512.3" stroke="#111" stroke-width="1.3" fill="none"/>
<path d="M296.70,532.30H300.2" stroke="#111" stroke-width="1.1"/>
<text x="293.20" y="534.68" font-size="8" font-weight="normal" text-anchor="end" fill="#333" stroke="#333" stroke-width="0.12" >0.0</text>
<path d="M296.70,491.30H300.2" stroke="#111" stroke-width="1.1"/>
<text x="293.20" y="493.68" font-size="8" font-weight="normal" text-anchor="end" fill="#333" stroke="#333" stroke-width="0.12" >0.2</text>
<path d="M296.70,450.30H300.2" stroke="#111" stroke-width="1.1"/>
<text x="293.20" y="452.68" font-size="8" font-weight="normal" text-anchor="end" fill="#333" stroke="#333" stroke-width="0.12" >0.4</text>
<path d="M296.70,409.30H300.2" stroke="#111" stroke-width="1.1"/>
<text x="293.20" y="411.68" font-size="8" font-weight="normal" text-anchor="end" fill="#333" stroke="#333" stroke-width="0.12" >0.6</text>
<path d="M296.70,368.30H300.2" stroke="#111" stroke-width="1.1"/>
<text x="293.20" y="370.68" font-size="8" font-weight="normal" text-anchor="end" fill="#333" stroke="#333" stroke-width="0.12" >0.8</text>
<path d="M296.70,327.30H300.2" stroke="#111" stroke-width="1.1"/>
<text x="293.20" y="329.68" font-size="8" font-weight="normal" text-anchor="end" fill="#333" stroke="#333" stroke-width="0.12" >1.0</text>
<path d="M310.90,543.6V547.20" stroke="#111" stroke-width="1.1"/>
<text transform="translate(315.70,553.70) rotate(-45)" font-size="8.2" text-anchor="end" fill="#333">0</text>
<path d="M325.52,543.6V547.20" stroke="#111" stroke-width="1.1"/>
<text transform="translate(330.32,553.70) rotate(-45)" font-size="8.2" text-anchor="end" fill="#333">12</text>
<path d="M340.13,543.6V547.20" stroke="#111" stroke-width="1.1"/>
<text transform="translate(344.93,553.70) rotate(-45)" font-size="8.2" text-anchor="end" fill="#333">24</text>
<path d="M354.75,543.6V547.20" stroke="#111" stroke-width="1.1"/>
<text transform="translate(359.55,553.70) rotate(-45)" font-size="8.2" text-anchor="end" fill="#333">36</text>
<path d="M369.36,543.6V547.20" stroke="#111" stroke-width="1.1"/>
<text transform="translate(374.16,553.70) rotate(-45)" font-size="8.2" text-anchor="end" fill="#333">48</text>
<path d="M383.98,543.6V547.20" stroke="#111" stroke-width="1.1"/>
<text transform="translate(388.78,553.70) rotate(-45)" font-size="8.2" text-anchor="end" fill="#333">60</text>
<path d="M398.60,543.6V547.20" stroke="#111" stroke-width="1.1"/>
<text transform="translate(403.40,553.70) rotate(-45)" font-size="8.2" text-anchor="end" fill="#333">72</text>
<path d="M413.21,543.6V547.20" stroke="#111" stroke-width="1.1"/>
<text transform="translate(418.01,553.70) rotate(-45)" font-size="8.2" text-anchor="end" fill="#333">84</text>
<path d="M427.83,543.6V547.20" stroke="#111" stroke-width="1.1"/>
<text transform="translate(432.63,553.70) rotate(-45)" font-size="8.2" text-anchor="end" fill="#333">96</text>
<path d="M442.44,543.6V547.20" stroke="#111" stroke-width="1.1"/>
<text transform="translate(447.24,553.70) rotate(-45)" font-size="8.2" text-anchor="end" fill="#333">108</text>
<path d="M457.06,543.6V547.20" stroke="#111" stroke-width="1.1"/>
<text transform="translate(461.86,553.70) rotate(-45)" font-size="8.2" text-anchor="end" fill="#333">120</text>
<path d="M471.68,543.6V547.20" stroke="#111" stroke-width="1.1"/>
<text transform="translate(476.48,553.70) rotate(-45)" font-size="8.2" text-anchor="end" fill="#333">132</text>
<path d="M486.29,543.6V547.20" stroke="#111" stroke-width="1.1"/>
<text transform="translate(491.09,553.70) rotate(-45)" font-size="8.2" text-anchor="end" fill="#333">144</text>
<path d="M500.91,543.6V547.20" stroke="#111" stroke-width="1.1"/>
<text transform="translate(505.71,553.70) rotate(-45)" font-size="8.2" text-anchor="end" fill="#333">156</text>
<text transform="translate(276.50,429.50) rotate(-90) scale(0.655,1)" font-size="9.9" font-weight="bold" text-anchor="middle" fill="#222">Overall survival</text>
<text transform="translate(406.40,577.30) scale(0.632,1)" font-size="9.9" font-weight="bold" text-anchor="middle" fill="#222">Months since diagnosis</text>
<text x="371.70" y="318.32" font-size="8.95" font-weight="bold" text-anchor="start" fill="#000" stroke="#000" stroke-width="0.0" >Years 2000-2016</text>
<text x="469.20" y="325.74" font-size="7.6" font-weight="normal" text-anchor="start" fill="#1e1e1e" stroke="#1e1e1e" stroke-width="0.12" >+ censored</text>
<text x="434.80" y="346.21" font-size="7.8" font-weight="bold" text-anchor="start" fill="#000" stroke="#000" stroke-width="0.0" >N = 138</text>
<path d="M429.10,364.00H432.90M426.30,363.50V367.70M426.80,371.00H424.70M422.70,371.00H420.60" fill="none" stroke="#9c163a" stroke-width="1.3"/>
<text x="435.90" y="367.14" font-size="7.6" font-weight="normal" text-anchor="start" fill="#1e1e1e" stroke="#1e1e1e" stroke-width="0.12" >Acute</text>
<path d="M429.10,374.10H432.90M426.30,373.60V377.80M426.80,381.10H424.70M422.70,381.10H420.60" fill="none" stroke="#264478" stroke-width="1.3"/>
<text x="435.90" y="377.24" font-size="7.6" font-weight="normal" text-anchor="start" fill="#1e1e1e" stroke="#1e1e1e" stroke-width="0.12" >Lymphomatous</text>
<path d="M429.10,384.20H432.90M426.30,383.70V387.90M426.80,391.20H424.70M422.70,391.20H420.60" fill="none" stroke="#32245c" stroke-width="1.3"/>
<text x="435.90" y="387.34" font-size="7.6" font-weight="normal" text-anchor="start" fill="#1e1e1e" stroke="#1e1e1e" stroke-width="0.12" >Unf. chronic</text>
<path d="M429.10,394.30H432.90M426.30,393.80V398.00M426.80,401.30H424.70M422.70,401.30H420.60" fill="none" stroke="#6fab42" stroke-width="1.3"/>
<text x="435.90" y="397.44" font-size="7.6" font-weight="normal" text-anchor="start" fill="#1e1e1e" stroke="#1e1e1e" stroke-width="0.12" >Chronic/Smoldering</text>
<path d="M310.90,327.30H327.30V327.30H327.30V368.30H359.60V368.30H359.60V408.70H398.80V408.70H398.80V450.30H467.50V450.30H467.50V532.30" fill="none" stroke="#6fab42" stroke-width="1.3" stroke-dasharray="3.6 2"/>
<path d="M310.90,327.30H323.30V327.30H323.30V361.50H392.00V361.50H392.00V418.30H506.30V418.30" fill="none" stroke="#32245c" stroke-width="1.65" stroke-dasharray="3.6 2"/>
<path d="M310.90,327.30H311.57V330.14H312.25V332.98H312.93V335.81H313.60V338.65H314.27V341.49H314.95V344.32H315.62V347.16H316.30V350.00H316.63V352.97H316.97V355.94H317.30V358.91H317.64V361.88H317.97V364.84H318.31V367.81H318.64V370.78H318.98V373.75H319.31V376.72H319.64V379.69H319.98V382.66H320.31V385.62H320.65V388.59H320.98V391.56H321.32V394.53H321.65V397.50H321.98V400.47H322.32V403.44H322.65V406.41H322.99V409.38H323.32V412.34H323.66V415.31H323.99V418.28H324.32V421.25H324.66V424.22H324.99V427.19H325.33V430.16H325.66V433.12H326.00V436.09H326.33V439.06H326.67V442.03H327.00V445.00H327.29V447.64H327.57V450.29H327.86V452.93H328.14V455.57H328.43V458.21H328.71V460.86H329.00V463.50H333.00V463.50H333.00V482.00H335.33V484.37H337.67V486.73H340.00V489.10H345.20V489.10H345.20V507.70H350.90V507.70H350.90V516.50H363.70V516.50H363.70V520.30H368.50V520.30H368.50V523.90H393.40V523.90H393.40V531.30" fill="none" stroke="#264478" stroke-width="1.65" stroke-dasharray="3.6 2"/>
<path d="M310.90,327.30H311.03V330.07H311.15V332.85H311.28V335.62H311.41V338.39H311.54V341.16H311.66V343.94H311.79V346.71H311.92V349.48H312.05V352.25H312.17V355.03H312.30V357.80H312.36V360.57H312.42V363.33H312.48V366.10H312.53V368.87H312.59V371.63H312.65V374.40H312.71V377.17H312.77V379.93H312.82V382.70H312.88V385.47H312.94V388.23H313.00V391.00H313.21V393.98H313.43V396.95H313.64V399.93H313.85V402.90H314.06V405.88H314.27V408.85H314.49V411.82H314.70V414.80H314.91V417.78H315.12V420.75H315.34V423.73H315.55V426.70H315.76V429.68H315.97V432.65H316.19V435.62H316.40V438.60H316.69V441.31H316.97V444.03H317.26V446.74H317.55V449.45H317.84V452.16H318.12V454.88H318.41V457.59H318.70V460.30H319.93V463.04H321.16V465.79H322.39V468.53H323.61V471.27H324.84V474.01H326.07V476.76H327.30V479.50H329.85V481.10H332.40V482.70H332.40V496.20H334.47V498.80H336.55V501.40H338.62V504.00H340.70V506.60H368.50V506.60H368.50V515.20H392.70V515.20H392.70V519.90H406.80V519.90H406.80V525.80H506.90V525.80H506.90V532.30" fill="none" stroke="#9c163a" stroke-width="1.65" stroke-dasharray="3.6 2"/>
<path d="M341.90,361.50H346.50M344.20,359.20V363.80" stroke="#32245c" stroke-width="1.2" fill="none"/>
<path d="M376.50,361.50H381.10M378.80,359.20V363.80" stroke="#32245c" stroke-width="1.2" fill="none"/>
<path d="M471.50,418.30H476.10M473.80,416.00V420.60" stroke="#32245c" stroke-width="1.2" fill="none"/>
<path d="M504.00,418.30H508.60M506.30,416.00V420.60" stroke="#32245c" stroke-width="1.2" fill="none"/>
<path d="M309.70,327.30H314.30M312.00,325.00V329.60" stroke="#32245c" stroke-width="1.2" fill="none"/>
<path d="M325.00,327.30H329.60M327.30,325.00V329.60" stroke="#6fab42" stroke-width="1.2" fill="none"/>
<path d="M450.20,450.30H454.80M452.50,448.00V452.60" stroke="#6fab42" stroke-width="1.2" fill="none"/>
<path d="M313.00,352.50H317.60M315.30,350.20V354.80" stroke="#264478" stroke-width="1.2" fill="none"/>
<path d="M315.10,369.00H319.70M317.40,366.70V371.30" stroke="#264478" stroke-width="1.2" fill="none"/>
<path d="M318.10,392.60H322.70M320.40,390.30V394.90" stroke="#264478" stroke-width="1.2" fill="none"/>
<path d="M320.20,408.00H324.80M322.50,405.70V410.30" stroke="#264478" stroke-width="1.2" fill="none"/>
<path d="M336.70,487.00H341.30M339.00,484.70V489.30" stroke="#264478" stroke-width="1.2" fill="none"/>
<path d="M310.00,357.80H314.60M312.30,355.50V360.10" stroke="#9c163a" stroke-width="1.2" fill="none"/>
<path d="M310.40,384.40H315.00M312.70,382.10V386.70" stroke="#9c163a" stroke-width="1.2" fill="none"/>
<path d="M311.00,391.60H315.60M313.30,389.30V393.90" stroke="#9c163a" stroke-width="1.2" fill="none"/>
<path d="M318.20,463.00H322.80M320.50,460.70V465.30" stroke="#9c163a" stroke-width="1.2" fill="none"/>
<path d="M322.70,472.00H327.30M325.00,469.70V474.30" stroke="#9c163a" stroke-width="1.2" fill="none"/>
<path d="M401.20,519.90H405.80M403.50,517.60V522.20" stroke="#9c163a" stroke-width="1.2" fill="none"/>
<path d="M368.60,361.50V523.90" stroke="#000" stroke-width="1.4" stroke-dasharray="1.2 0.9" fill="none"/>
<circle cx="368.60" cy="361.50" r="1.3" fill="#111"/>
<circle cx="368.60" cy="408.70" r="1.3" fill="#111"/>
<circle cx="368.60" cy="506.60" r="1.3" fill="#111"/>
<circle cx="368.60" cy="523.90" r="1.3" fill="#111"/>
<path d="M420.00,418.80L437.50,432.50" stroke="#111" stroke-width="1.4" fill="none"/>
<path d="M446.30,450.30L432.50,466.30" stroke="#111" stroke-width="1.4" fill="none"/>
<circle cx="420.00" cy="418.50" r="1.4" fill="#111"/>
<circle cx="446.30" cy="450.30" r="1.4" fill="#111"/>
<text x="336.50" y="458.14" font-size="7.6" font-weight="normal" text-anchor="start" fill="#1e1e1e" stroke="#1e1e1e" stroke-width="0.12" >p &lt; .001</text>
<text x="441.30" y="427.04" font-size="7.6" font-weight="normal" text-anchor="start" fill="#1e1e1e" stroke="#1e1e1e" stroke-width="0.12" >n=6</text>
<text x="441.30" y="436.54" font-size="7.6" font-weight="normal" text-anchor="start" fill="#1e1e1e" stroke="#1e1e1e" stroke-width="0.12" >Median not reached</text>
<text x="441.30" y="445.74" font-size="7.6" font-weight="normal" text-anchor="start" fill="#1e1e1e" stroke="#1e1e1e" stroke-width="0.12" >4-year OS, 83%</text>
<text x="376.90" y="458.14" font-size="7.6" font-weight="normal" text-anchor="start" fill="#1e1e1e" stroke="#1e1e1e" stroke-width="0.12" >n=7</text>
<text x="376.90" y="467.74" font-size="7.6" font-weight="normal" text-anchor="start" fill="#1e1e1e" stroke="#1e1e1e" stroke-width="0.12" >Median 72 mo;</text>
<text x="376.90" y="477.34" font-size="7.6" font-weight="normal" text-anchor="start" fill="#1e1e1e" stroke="#1e1e1e" stroke-width="0.12" >4-year OS, 60%</text>
<text x="376.90" y="491.74" font-size="7.6" font-weight="normal" text-anchor="start" fill="#1e1e1e" stroke="#1e1e1e" stroke-width="0.12" >n=58</text>
<text x="376.90" y="501.44" font-size="7.6" font-weight="normal" text-anchor="start" fill="#1e1e1e" stroke="#1e1e1e" stroke-width="0.12" >Median 4.4 mo;</text>
<text x="376.90" y="511.04" font-size="7.6" font-weight="normal" text-anchor="start" fill="#1e1e1e" stroke="#1e1e1e" stroke-width="0.12" >4-year OS, 13%</text>
<text x="341.30" y="529.74" font-size="7.6" font-weight="normal" text-anchor="start" fill="#1e1e1e" stroke="#1e1e1e" stroke-width="0.12" >n=67</text>
<text x="341.30" y="539.44" font-size="7.6" font-weight="normal" text-anchor="start" fill="#1e1e1e" stroke="#1e1e1e" stroke-width="0.12" >Median 10.8 mo; 4-year OS, 4%</text>
<path d="M0.75,0V587M0,0.75H520" stroke="#000" stroke-width="1.5"/>
<path d="M519,0V587M0,586H520" stroke="#000" stroke-width="2"/>
</svg>
</body></html>
